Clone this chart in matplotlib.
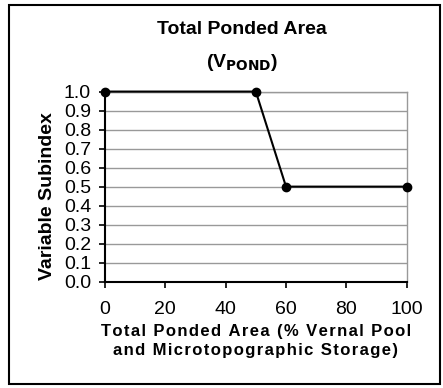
import matplotlib.pyplot as plt
from matplotlib.patches import Rectangle

plt.rcParams['font.family'] = ['Liberation Sans', 'DejaVu Sans']

# data
area_pct = [0, 50, 60, 100]
subindex = [1.0, 1.0, 0.5, 0.5]
x_ticks = [0, 20, 40, 60, 80, 100]
y_ticks = [0.0, 0.1, 0.2, 0.3, 0.4, 0.5, 0.6, 0.7, 0.8, 0.9, 1.0]
x_title = ['Total Ponded Area (% Vernal Pool', 'and Microtopographic Storage)']


def spaced(s):
    # the original x title is drawn with wide letter spacing
    return '\u200a'.join(s)


fig = plt.figure(figsize=(4.43, 3.88), dpi=100)
ax = fig.add_axes([0.237, 0.274, 0.681, 0.490])

# outer chart border
fig.patches.append(Rectangle((9 / 443, 4 / 388), 431 / 443, 379 / 388,
                             transform=fig.transFigure, fill=False,
                             edgecolor='black', linewidth=1.5))

ax.plot(area_pct, subindex, color='black', linewidth=1.5, marker='o',
        markersize=6, clip_on=False, zorder=3)

ax.set_xlim(0, 100)
ax.set_ylim(0, 1.0)
ax.set_xticks(x_ticks)
ax.set_yticks(y_ticks)
ax.set_yticklabels([f'{v:.1f}' for v in y_ticks])
ax.tick_params(axis='both', labelsize=14, length=4, width=1.2, color='black')
ax.tick_params(axis='x', pad=10)
ax.tick_params(axis='y', pad=6)

ax.grid(axis='y', color='#999999', linewidth=1)
ax.set_axisbelow(True)
for side in ['top', 'right']:
    ax.spines[side].set_color('#999999')
    ax.spines[side].set_linewidth(1)
for side in ['left', 'bottom']:
    ax.spines[side].set_color('black')
    ax.spines[side].set_linewidth(1.5)

ax.set_ylabel('Variable Subindex', fontsize=14, fontweight='bold')
ax.yaxis.set_label_coords(-0.163, 0.453)
ax.set_xlabel('\n'.join(spaced(s) for s in x_title),
              fontsize=12, fontweight='bold', labelpad=4, linespacing=1.35)

fig.text(0.546, 0.923, 'Total Ponded Area', ha='center', va='center',
         fontsize=14, fontweight='bold')
fig.text(0.546, 0.838, r'(V$_{\mathbf{POND}}$)', ha='center', va='center',
         fontsize=14, fontweight='bold')

fig.savefig('out.png', dpi=100)
